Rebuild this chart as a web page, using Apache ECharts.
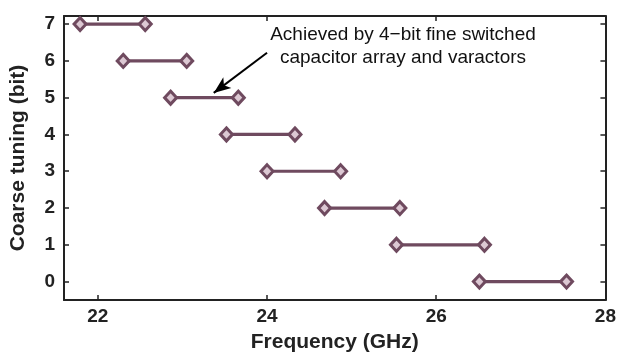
<!DOCTYPE html>
<html>
<head>
<meta charset="utf-8">
<script src="https://cdn.jsdelivr.net/npm/echarts@6/dist/echarts.min.js"></script>
<style>html,body{margin:0;padding:0;background:#fff}#c{width:619px;height:361px}</style>
</head>
<body>
<div id="c"></div>
<script>
// Data
var levels = [7, 6, 5, 4, 3, 2, 1, 0];
var freqStart = [21.79, 22.30, 22.86, 23.52, 24.00, 24.68, 25.53, 26.51];
var freqEnd   = [22.56, 23.05, 23.66, 24.33, 24.87, 25.57, 26.57, 27.54];
var xTicks = [22, 24, 26, 28];
var yTicks = [0, 1, 2, 3, 4, 5, 6, 7];
var annotationText = 'Achieved by 4\u2212bit fine switched\ncapacitor array and varactors';
var arrowFrom = [24.0, 6.22];
var arrowTo = [23.37, 5.13];

var color = '#6f4a5f';
var font = '"Liberation Sans", Arial, Helvetica, sans-serif';

var series = levels.map(function (lv, i) {
  var s = {
    type: 'line',
    xAxisIndex: 0, yAxisIndex: 0,
    data: [[freqStart[i], lv], [freqEnd[i], lv]],
    symbol: 'diamond',
    symbolSize: [12, 13],
    lineStyle: { color: color, width: 3.2 },
    itemStyle: { color: '#dcc8d3', borderColor: color, borderWidth: 3 },
    silent: true,
    animation: false
  };
  if (i === 0) {
    s.markLine = {
      silent: true,
      symbol: ['none', 'arrow'],
      symbolSize: [10, 17],
      label: { show: false },
      lineStyle: { color: '#000', width: 2, type: 'solid' },
      data: [[{ coord: arrowFrom }, { coord: arrowTo }]]
    };
  }
  return s;
});

var axisLineStyle = { color: '#222', width: 2 };

var chart = echarts.init(document.getElementById('c'), null, { renderer: 'canvas' });
chart.setOption({
  animation: false,
  backgroundColor: '#fff',
  grid: { left: 63, right: 11, top: 16, bottom: 61, containLabel: false },
  xAxis: [{
    type: 'value', position: 'bottom', min: 21.6, max: 28,
    name: 'Frequency (GHz)', nameLocation: 'middle', nameGap: 32,
    nameTextStyle: { fontFamily: font, fontWeight: 'bold', fontSize: 21, color: '#222' },
    axisLine: { show: true, onZero: false, lineStyle: axisLineStyle },
    axisTick: { show: true, inside: true, length: 5, customValues: xTicks, lineStyle: { color: '#222', width: 1.5 } },
    axisLabel: { customValues: xTicks, margin: 7, fontFamily: font, fontWeight: 'bold', fontSize: 19, color: '#222', showMinLabel: true, showMaxLabel: true },
    splitLine: { show: false }
  }, {
    type: 'value', position: 'top', min: 21.6, max: 28,
    axisLine: { show: true, onZero: false, lineStyle: axisLineStyle },
    axisTick: { show: true, inside: true, length: 5, customValues: xTicks, lineStyle: { color: '#222', width: 1.5 } },
    axisLabel: { show: false },
    splitLine: { show: false }
  }],
  yAxis: [{
    type: 'value', position: 'left', min: -0.5, max: 7.22,
    name: 'Coarse tuning (bit)', nameLocation: 'middle', nameGap: 35,
    nameTextStyle: { fontFamily: font, fontWeight: 'bold', fontSize: 21, color: '#222' },
    axisLine: { show: true, onZero: false, lineStyle: axisLineStyle },
    axisTick: { show: true, inside: true, length: 5, customValues: yTicks, lineStyle: { color: '#222', width: 1.5 } },
    axisLabel: { customValues: yTicks, margin: 9, fontFamily: font, fontWeight: 'bold', fontSize: 19, color: '#222' },
    splitLine: { show: false }
  }, {
    type: 'value', position: 'right', min: -0.5, max: 7.22,
    axisLine: { show: true, onZero: false, lineStyle: axisLineStyle },
    axisTick: { show: true, inside: true, length: 5, customValues: yTicks, lineStyle: { color: '#222', width: 1.5 } },
    axisLabel: { show: false },
    splitLine: { show: false }
  }],
  graphic: [{
    type: 'text',
    x: 403, y: 23,
    style: {
      text: annotationText,
      fontFamily: font, fontSize: 19, fill: '#111',
      align: 'center', verticalAlign: 'top', lineHeight: 23
    }
  }],
  series: series
});
</script>
</body>
</html>
